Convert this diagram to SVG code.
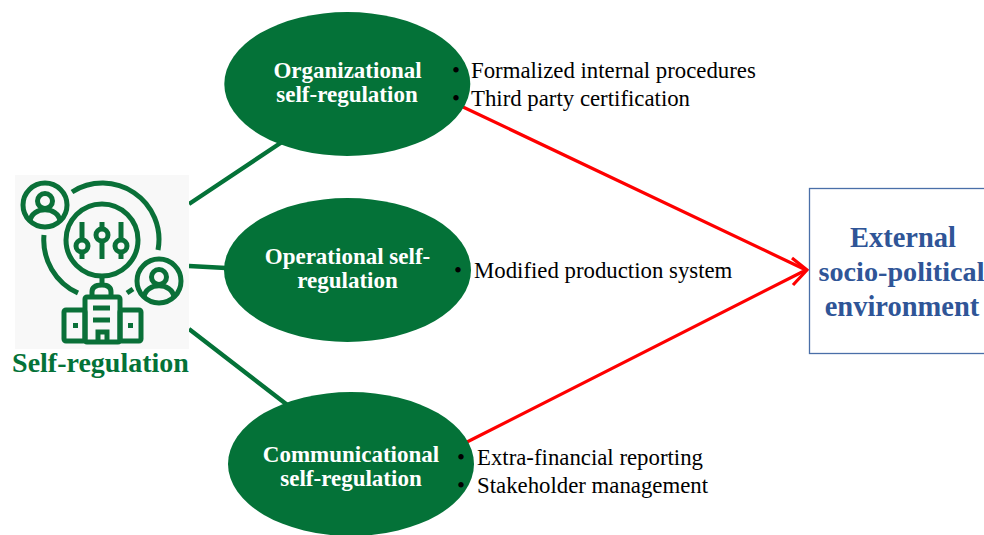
<svg xmlns="http://www.w3.org/2000/svg" width="984" height="535" viewBox="0 0 984 535">
<style>
text{font-family:"Liberation Serif","Times New Roman",serif}
.e{fill:#047238}
.t{fill:#fff;font-size:23px;font-weight:700;text-anchor:middle}
.b{fill:#000;font-size:22.800px}
.h{fill:#2F5597;font-size:28.500px;font-weight:700;text-anchor:middle}
.g{fill:none;stroke:#047238;stroke-width:4.300}
.k{fill:none;stroke:#0a7038;stroke-width:5}
.r{fill:none;stroke:#fe0000;stroke-width:3.200}
</style>
<rect width="984" height="535" fill="#fff"/>
<g id="connectors">
<path class="g" d="M189 204L282 142M189 266L226 268M189 329L290 407"/>
<path class="r" d="M463 107L806 270M467 442L806 270"/>
<path class="r" d="M792 258L807 270L793 285"/>
</g>
<g id="self-regulation">
<rect x="15" y="175" width="174" height="174" fill="#f8f8f8"/>
<g class="k">
<circle cx="45" cy="205" r="22"/><circle cx="45" cy="201" r="7.500"/><path d="M30 221c2-15 28-15 30 0"/>
<circle cx="159" cy="281" r="22"/><circle cx="159" cy="277" r="7.500"/><path d="M144 297c2-15 28-15 30 0"/>
<circle cx="102" cy="240" r="36"/>
<path d="M72 192A56.500 56.500 0 0 1 158 250M44 235A58 58 0 0 0 78 293M127 293L133 289"/>
<path d="M82 222V259M102 222V259M121 222V259"/>
<circle cx="82" cy="246" r="6" fill="#f8f8f8"/><circle cx="102" cy="235" r="6" fill="#f8f8f8"/><circle cx="121" cy="246" r="6" fill="#f8f8f8"/>
<path d="M102 276V284M92 296V292Q92 285 102 285Q111 285 111 292V296"/>
<rect x="85" y="297" width="35" height="45" rx="2"/>
<rect x="64" y="310" width="21" height="31" rx="2"/><rect x="120" y="310" width="21" height="31" rx="2"/>
<path d="M93 308H110M93 320H110M98 342V332H107V342"/>
</g>
<rect x="73" y="323" width="5" height="5" fill="#0a7038"/><rect x="128" y="323" width="5" height="5" fill="#0a7038"/>
<text x="100.500" y="372" text-anchor="middle" font-size="28" font-weight="700" fill="#047238">Self-regulation</text>
</g>
<g id="organizational">
<ellipse class="e" cx="347.300" cy="84" rx="123" ry="72"/>
<text class="t" x="347.500" y="78">Organizational</text><text class="t" x="347" y="102">self-regulation</text>
<text class="b" x="452" y="77.500">•</text><text class="b" x="471" y="77.500">Formalized internal procedures</text>
<text class="b" x="452" y="106">•</text><text class="b" x="471" y="106">Third party certification</text>
</g>
<g id="operational">
<ellipse class="e" cx="347.500" cy="270" rx="123.500" ry="72"/>
<text class="t" x="347.500" y="264">Operational self-</text><text class="t" x="347.500" y="288">regulation</text>
<text class="b" x="454" y="277.500">•</text><text class="b" x="474" y="277.500">Modified production system</text>
</g>
<g id="communicational">
<ellipse class="e" cx="351" cy="464" rx="123" ry="72"/>
<text class="t" x="351" y="462">Communicational</text><text class="t" x="351" y="486">self-regulation</text>
<text class="b" x="457" y="464.500">•</text><text class="b" x="477" y="464.500">Extra-financial reporting</text>
<text class="b" x="457" y="493">•</text><text class="b" x="477" y="493">Stakeholder management</text>
</g>
<g id="external">
<rect x="809.500" y="188.500" width="180" height="165" fill="#fff" stroke="#4A6FA8" stroke-width="1.300"/>
<text class="h" x="903" y="246.500">External</text><text class="h" x="901.500" y="281" style="font-size:28.200px">socio-political</text><text class="h" x="902" y="315.500">environment</text>
</g>
</svg>
